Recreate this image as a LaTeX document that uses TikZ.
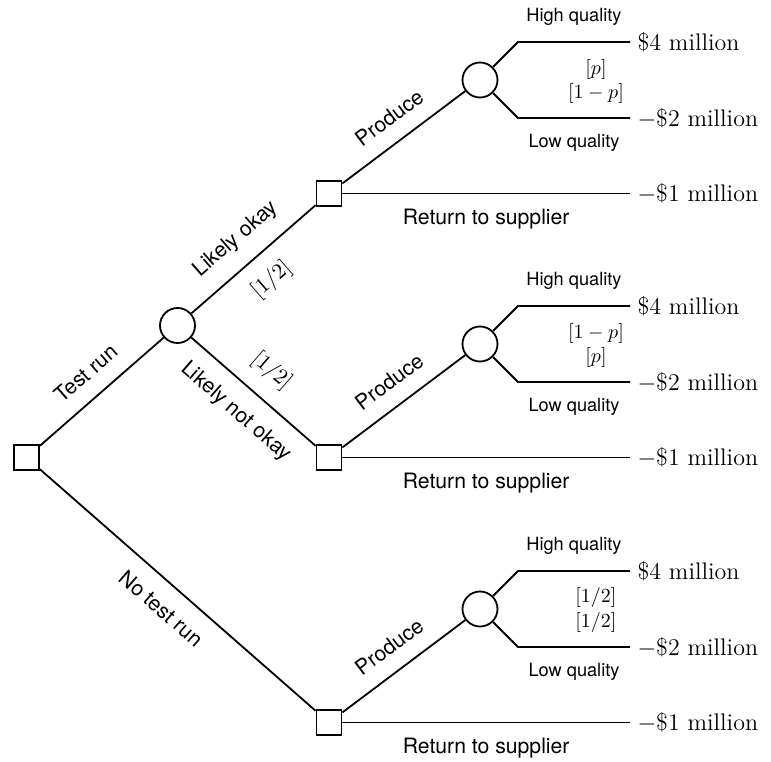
\documentclass[tikz,border=0pt]{standalone}
\usepackage{fontspec}
\setsansfont{TeX Gyre Heros}
\begin{document}
\begin{tikzpicture}[x=0.5pt,y=-0.5pt, line width=0.9pt,
  decision/.style={draw, rectangle, minimum size=12.5pt, inner sep=0pt},
  chance/.style={draw, circle, minimum size=17.5pt, inner sep=0pt},
  lbl/.style={font=\sffamily\fontsize{10.6}{12}\selectfont, sloped, midway},
  prob/.style={font=\fontsize{10.6}{12}\selectfont, sloped, midway},
  qual/.style={font=\sffamily\fontsize{9.1}{11}\selectfont, midway},
  ret/.style={font=\sffamily\fontsize{10.6}{12}\selectfont, midway},
  pr/.style={font=\fontsize{9.6}{11}\selectfont},
  money/.style={font=\fontsize{12}{14}\selectfont, anchor=west}]
\useasboundingbox (0,0) rectangle (771,761);

% nodes
\node[decision] (root) at (26.5,457.5) {};
\node[chance] (c0) at (177.5,325.5) {};
\node[decision] (d1) at (329,193.5) {};
\node[decision] (d2) at (329,457.5) {};
\node[decision] (d3) at (329,722.5) {};
\node[chance] (c1) at (480,80) {};
\node[chance] (c2) at (480,344) {};
\node[chance] (c3) at (480,609) {};

% first level
\draw (root) -- node[lbl, above=4.5pt] {Test run} (c0);
\draw (root) -- node[lbl, below=4.5pt] {No test run} (d3);
\draw (c0) -- node[lbl, above=4.5pt] {Likely okay} node[prob, below=4.5pt] {$[1/2]$} (d1);
\draw (c0) -- node[lbl, below=4.5pt] {Likely not okay} node[prob, above=4.5pt] {$[1/2]$} (d2);

% group 1
\coordinate (h1) at (518,42);
\coordinate (l1) at (518,118);
\node[money] (o1h) at (630,42) {\$4 million};
\node[money] (o1l) at (630,118) {$-$\$2 million};
\node[money] (o1r) at (630,193.5) {$-$\$1 million};
\draw (d1) -- node[lbl, above=4.5pt] {Produce} (c1);
\draw (c1) -- (h1) -- node[qual, above=4.4pt] {High quality} (o1h.west);
\draw (c1) -- (l1) -- node[qual, below=4.4pt] {Low quality} (o1l.west);
\draw (d1) -- node[ret, below=3.8pt] {Return to supplier} (o1r.west);
\node[pr] (p1a) at (596,69) {$[p]$};
\node[pr] (p1b) at (596,93) {$[1-p]$};

% group 2
\coordinate (h2) at (518,306);
\coordinate (l2) at (518,382);
\node[money] (o2h) at (630,306) {\$4 million};
\node[money] (o2l) at (630,382) {$-$\$2 million};
\node[money] (o2r) at (630,457.5) {$-$\$1 million};
\draw (d2) -- node[lbl, above=4.5pt] {Produce} (c2);
\draw (c2) -- (h2) -- node[qual, above=4.4pt] {High quality} (o2h.west);
\draw (c2) -- (l2) -- node[qual, below=4.4pt] {Low quality} (o2l.west);
\draw (d2) -- node[ret, below=3.8pt] {Return to supplier} (o2r.west);
\node[pr] (p2a) at (596,333) {$[1-p]$};
\node[pr] (p2b) at (596,357) {$[p]$};

% group 3
\coordinate (h3) at (518,571);
\coordinate (l3) at (518,647);
\node[money] (o3h) at (630,571) {\$4 million};
\node[money] (o3l) at (630,647) {$-$\$2 million};
\node[money] (o3r) at (630,722.5) {$-$\$1 million};
\draw (d3) -- node[lbl, above=4.5pt] {Produce} (c3);
\draw (c3) -- (h3) -- node[qual, above=4.4pt] {High quality} (o3h.west);
\draw (c3) -- (l3) -- node[qual, below=4.4pt] {Low quality} (o3l.west);
\draw (d3) -- node[ret, below=3.8pt] {Return to supplier} (o3r.west);
\node[pr] (p3a) at (596,597) {$[1/2]$};
\node[pr] (p3b) at (596,622) {$[1/2]$};
\end{tikzpicture}
\end{document}
